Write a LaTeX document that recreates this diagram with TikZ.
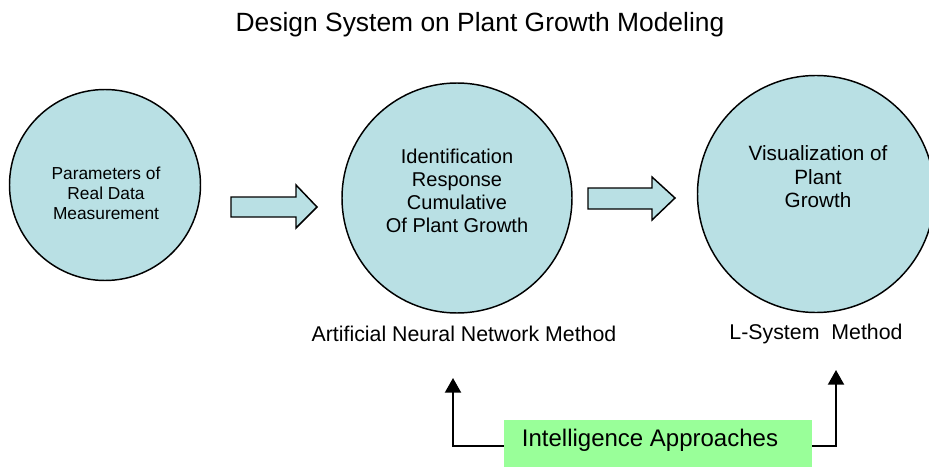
\documentclass[tikz,border=0pt]{standalone}
\usepackage{fontspec}
\setmainfont{Liberation Sans}
\usetikzlibrary{positioning}
\usetikzlibrary{arrows.meta}
\definecolor{circFill}{RGB}{185,224,228}
\definecolor{boxGreen}{RGB}{153,255,153}

\begin{document}
\begin{tikzpicture}[x=0.75pt, y=-0.75pt,
  bigCircle/.style={circle, draw=black, line width=1.1pt, fill=circFill, inner sep=0pt},
  circText/.style={align=center, font=\fontsize{15}{17.25}\selectfont},
  capText/.style={font=\fontsize{16}{19}\selectfont},
  blockArrow/.style={fill=circFill, draw=black, line width=1.1pt, line join=miter},
  feedLine/.style={line width=1.5pt, -{Triangle[width=12pt,length=11pt]}}
]

\useasboundingbox (0,0) rectangle (929,467);

% title
\node (title) at (480,25) {\fontsize{19.8}{23}\selectfont Design System on Plant Growth Modeling};

% circles
\node[bigCircle, minimum size=143.25pt] (param) at (105,185) {};
\node[bigCircle, minimum size=172.5pt] (ident) at (457,198) {};
\node[bigCircle, minimum size=177.75pt] (visual) at (816,194) {};

\node[circText, font=\fontsize{13}{15}\selectfont] (paramTxt) at (106,193)
{Parameters of\\Real Data\\Measurement};
\node[circText] (identTxt) at (457,191)
{Identification\\Response\\Cumulative\\Of Plant Growth};
\node[circText, font=\fontsize{15.5}{17.6}\selectfont] (visualTxt) at (818,177)
{Visualization of\\Plant\\Growth};

% method captions
\node[capText] (annCap) at (464,334) {Artificial Neural Network Method};
\node[capText] (lsysCap) at (816,334) {L-System\ \ Method};

% block arrows
\filldraw[blockArrow] (231,197) --++(65,0) --++(0,-12) --++(21,22) --++(-21,21) --++(0,-11) --++(-65,0) -- cycle;
\filldraw[blockArrow] (588,188) --++(64,0) --++(0,-11) --++(23,21) --++(-23,22) --++(0,-11) --++(-64,0) -- cycle;

% intelligence box
\node[fill=boxGreen, minimum width=231pt, minimum height=39pt, inner sep=0pt] (approach) at (658,446) {};
\node[font=\fontsize{18}{21}\selectfont] (approachTxt) at (650,440) {Intelligence Approaches};

\coordinate (annTip) at (453,378);
\coordinate (lsysTip) at (836,370);

\draw[feedLine] (approach.west) -| (annTip);
\draw[feedLine] (approach.east) -| (lsysTip);

\end{tikzpicture}
\end{document}
